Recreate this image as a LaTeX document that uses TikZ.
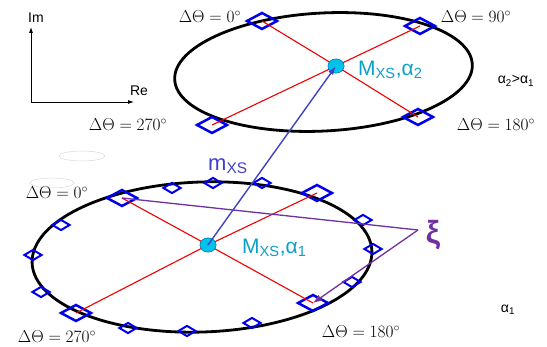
\documentclass[tikz,border=0pt]{standalone}
\usepackage{fontspec}
\setsansfont{Liberation Sans}
\usetikzlibrary{shapes.geometric,arrows.meta}
\definecolor{dblue}{RGB}{0,0,235}
\definecolor{mblue}{RGB}{64,64,200}
\definecolor{cyantext}{RGB}{10,160,200}
\definecolor{dotfill}{RGB}{0,195,235}
\definecolor{dotline}{RGB}{0,140,190}
\definecolor{redl}{RGB}{240,0,0}
\definecolor{purp}{RGB}{112,48,160}
\tikzset{
  bigdia/.style={diamond, draw=dblue, line width=2.5pt, inner sep=0pt, minimum width=31pt, minimum height=17pt},
  smalldia/.style={diamond, draw=dblue, line width=2pt, inner sep=0pt, minimum width=18pt, minimum height=11pt},
  cdot/.style={ellipse, fill=dotfill, draw=dotline, line width=0.6pt, inner sep=0pt, minimum width=16pt, minimum height=14pt},
  ell/.style={draw=black, line width=2.8pt},
  redline/.style={draw=redl, line width=1.1pt},
  purpline/.style={draw=purp, line width=1.3pt},
  thlabel/.style={font=\fontsize{18.5}{20}\selectfont, inner sep=0pt},
  mlabel/.style={font=\sffamily\fontsize{21}{24}\selectfont, text=cyantext, inner sep=0pt},
  smalllabel/.style={font=\sffamily\fontsize{14}{16}\selectfont, inner sep=0pt},
  axis/.style={draw=black, line width=0.8pt, -{Latex[length=6pt,width=4pt]}},
  ghost/.style={draw=black!15, line width=0.5pt}
}
\begin{document}
\begin{tikzpicture}[x=1pt,y=-1pt]
\useasboundingbox (0,0) rectangle (547,347);
% axes
\coordinate (ao) at (31,102);
\coordinate (ay) at (31,27);
\coordinate (ax) at (134,102);
\draw[axis] (ao) -- (ay);
\draw[axis] (ao) -- (ax);
\node[smalllabel] (im) at (36,18) {Im};
\node[smalllabel] (re) at (139,91) {Re};
% ghost ellipses
\draw[ghost] (82,156) ellipse [x radius=23, y radius=5];
\draw[ghost] (52,183) ellipse [x radius=22, y radius=5];
% ellipses
\draw[ell, rotate around={3:(323.5,72)}] (323.5,72) ellipse [x radius=149, y radius=59];
\draw[ell, rotate around={2:(202,257)}] (202,257) ellipse [x radius=170, y radius=75];
% centres
\node[cdot] (c2) at (336,66) {};
\node[cdot] (c1) at (208,245) {};
% upper diamonds
\node[bigdia] (u0) at (262,21) {};
\node[bigdia] (u90) at (420,26) {};
\node[bigdia] (u270) at (212,125) {};
\node[bigdia] (u180) at (418,117) {};
% lower big diamonds
\node[bigdia] (l0) at (122,198) {};
\node[bigdia] (l90) at (317,193) {};
\node[bigdia] (l270) at (76,313) {};
\node[bigdia] (l180) at (313,303) {};
% lower small diamonds
\foreach \n/\p in {s1/{(172,188)}, s2/{(213,183)}, s3/{(262,183)}, s4/{(61,225)}, s5/{(33,255)}, s6/{(41,292)}, s7/{(128,328)}, s8/{(187,331)}, s9/{(252,323)}, s10/{(363,220)}, s11/{(373,249)}, s12/{(352,282)}}
  \node[smalldia] (\n) at \p {};
% red lines
\draw[redline] (c2.center) -- (u0.center);
\draw[redline] (c2.center) -- (u90.center);
\draw[redline] (c2.center) -- (u270.center);
\draw[redline] (c2.center) -- (u180.center);
\draw[redline] (c1.center) -- (l0.center);
\draw[redline] (c1.center) -- (l90.center);
\draw[redline] (c1.center) -- (l270.center);
\draw[redline] (c1.center) -- (l180.center);
% redraw dots over red lines
\node[cdot] at (c2.center) {};
\node[cdot] at (c1.center) {};
% xi
\coordinate (xp) at (418,230);
\node[font=\sffamily\bfseries\fontsize{32}{34}\selectfont, text=purp, inner sep=0pt] (xi) at (433,235) {ξ};
\draw[purpline] (xp) -- (l0.center);
\draw[purpline, -{Latex[length=9pt,width=7pt]}] (xp) -- (l180.center);
% m_XS arrow
\draw[draw=mblue, line width=1.4pt, -{Latex[length=9pt,width=6pt]}] (c1.center) -- (c2.center);
\node[font=\sffamily\fontsize{22}{24}\selectfont, text=mblue, inner sep=0pt, anchor=west] (mxs) at (208,166) {m\textsubscript{XS}};
% M labels
\node[mlabel, anchor=west] (m2) at (358,70) {M\textsubscript{XS},α\textsubscript{2}};
\node[mlabel, anchor=west] (m1) at (242,248) {M\textsubscript{XS},α\textsubscript{1}};
\node[smalllabel] (a21) at (516,81) {α\textsubscript{2}>α\textsubscript{1}};
\node[smalllabel] (a1) at (508,310) {α\textsubscript{1}};
% theta labels
\node[thlabel] (t0u) at (210,17) {$\Delta\Theta = 0^\circ$};
\node[thlabel] (t90u) at (476,17) {$\Delta\Theta = 90^\circ$};
\node[thlabel] (t270u) at (128,125) {$\Delta\Theta = 270^\circ$};
\node[thlabel] (t180u) at (496,125) {$\Delta\Theta = 180^\circ$};
\node[thlabel] (t0l) at (57,193) {$\Delta\Theta = 0^\circ$};
\node[thlabel] (t270l) at (57,337) {$\Delta\Theta = 270^\circ$};
\node[thlabel] (t180l) at (361,332) {$\Delta\Theta = 180^\circ$};
\end{tikzpicture}
\end{document}
